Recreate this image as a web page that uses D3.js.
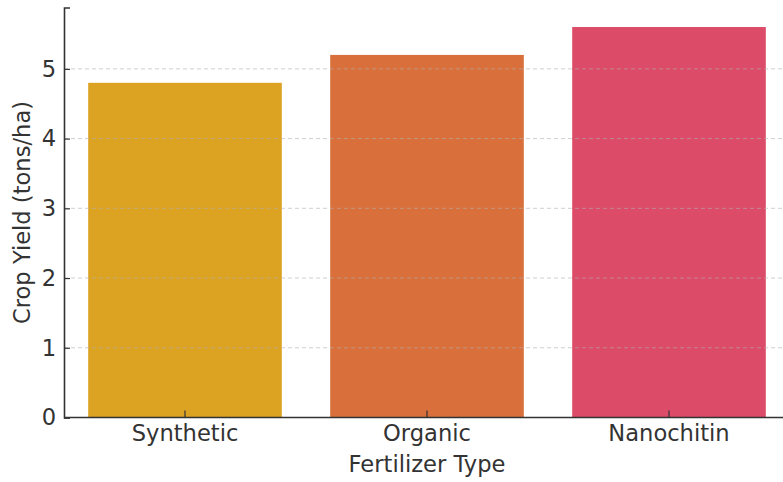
<!DOCTYPE html>
<html>
<head>
<meta charset="utf-8">
<script src="https://cdn.jsdelivr.net/npm/d3@7"></script>
<style>
  html, body { margin: 0; padding: 0; background: #fff; }
  svg { display: block; }
  text { font-family: "DejaVu Sans", sans-serif; }
</style>
</head>
<body>
<svg id="chart" width="783" height="482"></svg>
<script>
const categories = ["Synthetic", "Organic", "Nanochitin"];
const yields = [4.8, 5.2, 5.6];
const barColors = ["#DCA222", "#D9703B", "#DC4B67"];
const yTicks = [0, 1, 2, 3, 4, 5];
const xTitle = "Fertilizer Type";
const yTitle = "Crop Yield (tons/ha)";

const svg = d3.select("#chart");
const margin = { left: 64, top: 7.5, bottom: 64.5 };
const plotRight = 790;
const H = 482;
const y0 = H - margin.bottom;
const fs = 22.6;

const x = d3.scaleBand().domain(categories).range([margin.left, plotRight])
  .paddingInner(0.2).paddingOuter(0.1);
const y = d3.scaleLinear().domain([0, 5.88]).range([y0, margin.top]);

// bars
svg.append("g").selectAll("rect").data(categories).join("rect")
  .attr("x", d => x(d))
  .attr("y", (d, i) => y(yields[i]))
  .attr("width", x.bandwidth())
  .attr("height", (d, i) => y(0) - y(yields[i]))
  .attr("fill", (d, i) => barColors[i]);

// grid
svg.append("g").selectAll("line").data(yTicks.filter(t => t > 0)).join("line")
  .attr("x1", margin.left).attr("x2", plotRight)
  .attr("y1", d => y(d)).attr("y2", d => y(d))
  .attr("stroke", "#b0b0b0").attr("stroke-opacity", 0.6)
  .attr("stroke-width", 1).attr("stroke-dasharray", "4,3");

// y axis
const yAxis = svg.append("g").attr("transform", `translate(${margin.left},0)`)
  .call(d3.axisLeft(y).tickValues(yTicks).tickFormat(d3.format("d")).tickSize(-6).tickPadding(8));
yAxis.select(".domain").attr("stroke", "#333").attr("stroke-width", 1.6);
yAxis.selectAll(".tick line").attr("stroke", "#333").attr("stroke-width", 1.2);
yAxis.selectAll(".tick text").attr("font-size", fs).attr("fill", "#333")
  .attr("font-family", "DejaVu Sans");

// x axis
const xAxis = svg.append("g").attr("transform", `translate(0,${y0})`)
  .call(d3.axisBottom(x).tickSize(-7).tickPadding(7));
xAxis.select(".domain").attr("stroke", "#333").attr("stroke-width", 1.6)
  .attr("d", `M${margin.left},0H${plotRight}`);
xAxis.selectAll(".tick line").attr("stroke", "#333").attr("stroke-width", 1.2);
xAxis.selectAll(".tick text").attr("font-size", fs).attr("fill", "#333")
  .attr("font-family", "DejaVu Sans");

// titles
svg.append("text")
  .attr("x", (margin.left + plotRight) / 2).attr("y", 472)
  .attr("text-anchor", "middle").attr("font-size", fs).attr("fill", "#333")
  .text(xTitle);
svg.append("text")
  .attr("transform", `translate(30,${(y0 + margin.top) / 2}) rotate(-90)`)
  .attr("text-anchor", "middle").attr("font-size", fs).attr("fill", "#333")
  .text(yTitle);
</script>
</body>
</html>
